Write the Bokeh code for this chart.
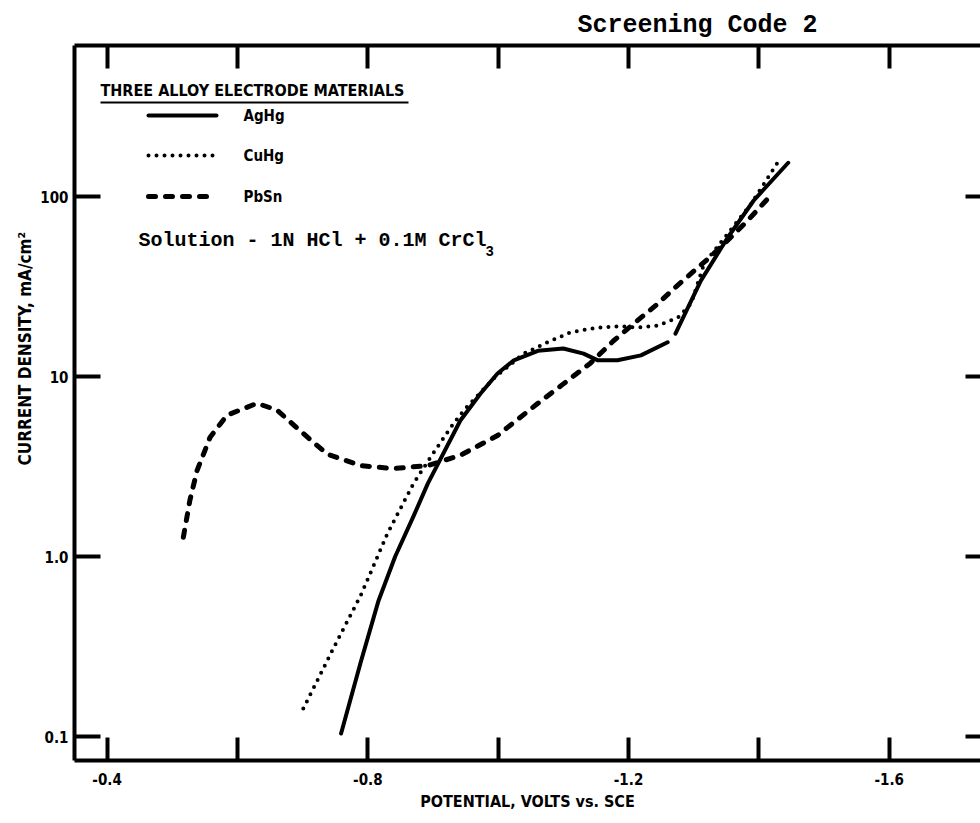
import math
from bokeh.plotting import figure
from bokeh.models import Range1d, FixedTicker, LinearAxis, LogAxis, Label, Title
from bokeh.embed import file_html
from bokeh.resources import INLINE

# ---------------- data ----------------
pbsn_v = [-0.517, -0.527, -0.538, -0.558, -0.584, -0.630, -0.661, -0.696, -0.738,
          -0.789, -0.839, -0.892, -0.942, -0.999, -1.014, -1.061, -1.100, -1.142,
          -1.177, -1.214, -1.245, -1.270, -1.322, -1.352, -1.383, -1.421]
pbsn_i = [1.28, 2.05, 3.0, 4.6, 6.1, 7.1, 6.5, 5.0, 3.7,
          3.2, 3.08, 3.2, 3.65, 4.7, 5.2, 7.1, 9.1, 11.9,
          15.8, 20.5, 25.4, 30.9, 45.1, 57.0, 73.6, 104.0]

aghg_v1 = [-0.759, -0.789, -0.816, -0.842, -0.870, -0.892, -0.942, -0.973, -0.999,
           -1.024, -1.061, -1.100, -1.131, -1.153, -1.183, -1.219, -1.260]
aghg_i1 = [0.104, 0.258, 0.562, 1.0, 1.67, 2.54, 5.7, 8.05, 10.4,
           12.3, 13.9, 14.3, 13.4, 12.3, 12.3, 13.1, 15.5]
aghg_v2 = [-1.272, -1.311, -1.352, -1.392, -1.445]
aghg_i2 = [17.3, 34.1, 59.0, 95.0, 154.0]

cuhg_v = [-0.701, -0.747, -0.789, -0.807, -0.830, -0.870, -0.896, -0.927, -0.947,
          -0.993, -1.039, -1.076, -1.111, -1.153, -1.188, -1.214, -1.245, -1.276,
          -1.296, -1.316, -1.352, -1.388, -1.434]
cuhg_i = [0.143, 0.308, 0.607, 0.858, 1.34, 2.54, 3.55, 5.2, 6.47,
          9.75, 13.4, 15.5, 17.6, 18.7, 19.0, 18.7, 19.2, 21.3,
          25.4, 42.4, 62.0, 91.0, 165.0]

series_names = ["AgHg", "CuHg", "PbSn"]
x_label_ticks = [-0.4, -0.8, -1.2, -1.6]
x_mid_ticks = [-0.6, -1.0, -1.4]
x_tick_labels = ["-0.4", "-0.8", "-1.2", "-1.6"]
y_ticks = [0.1, 1.0, 10.0, 100.0]
y_tick_labels = ["0.1", "1.0", "10", "100"]

title_text = "Screening Code 2"
legend_title = "THREE ALLOY ELECTRODE MATERIALS"
solution_text = "Solution - 1N HCl + 0.1M CrCl"
x_label = "POTENTIAL, VOLTS vs. SCE"
y_label = "CURRENT DENSITY, mA/cm\u00b2"

# ---------------- layout ----------------
W, H = 980, 823
FL, FR, FT, FB = 74, 980, 45, 760
XS, XE = -0.35, -1.74
YS, YE = 0.0736, 690.0
SANS = "DejaVu Sans Condensed"
MONO = "Liberation Mono"


def sx(px):
    return XS + (px - FL) / (FR - FL) * (XE - XS)


def sy(py):
    l0, l1 = math.log10(YS), math.log10(YE)
    return 10 ** (l1 - (py - FT) / (FB - FT) * (l1 - l0))


p = figure(width=W, height=H, x_range=Range1d(XS, XE), y_range=Range1d(YS, YE),
           y_axis_type="log", output_backend="svg", toolbar_location=None,
           min_border_left=FL, min_border_right=W - FR, min_border_top=FT,
           min_border_bottom=H - FB)
p.outline_line_color = None
p.xgrid.visible = False
p.ygrid.visible = False
p.background_fill_color = "white"
p.border_fill_color = "white"

# title
p.title.text = title_text
p.title.align = "left"
p.title.offset = 503
p.title.text_font = MONO
p.title.text_font_style = "bold"
p.title.text_font_size = "25px"
p.title.text_color = "black"
p.title.standoff = 12


def style_axis(ax, tick_in):
    ax.axis_line_width = 4
    ax.axis_line_color = "black"
    ax.major_tick_in = tick_in
    ax.major_tick_out = 0
    ax.major_tick_line_width = 4
    ax.major_tick_line_color = "black"
    ax.minor_tick_in = tick_in
    ax.minor_tick_out = 0
    ax.minor_tick_line_width = 4
    ax.minor_tick_line_color = "black"
    ax.major_label_text_font = SANS
    ax.major_label_text_font_style = "bold"
    ax.major_label_text_font_size = "15px"
    ax.major_label_text_color = "black"


# bottom axis
xa = p.xaxis[0]
xa.ticker = FixedTicker(ticks=x_label_ticks, minor_ticks=x_mid_ticks)
xa.major_label_overrides = {t: l for t, l in zip(x_label_ticks, x_tick_labels)}
style_axis(xa, 23)
xa.major_label_standoff = 12
xa.axis_label = x_label
xa.axis_label_text_font = SANS
xa.axis_label_text_font_style = "bold"
xa.axis_label_text_font_size = "16px"
xa.axis_label_text_color = "black"
xa.axis_label_standoff = 4

# left axis
ya = p.yaxis[0]
ya.ticker = FixedTicker(ticks=y_ticks, minor_ticks=[])
ya.major_label_overrides = {t: l for t, l in zip(y_ticks, y_tick_labels)}
style_axis(ya, 26)
ya.major_label_standoff = 6

# y axis label, starting above the frame bottom as in the reference
p.add_layout(Title(text=y_label, align="left", offset=295, text_font=SANS,
                   text_font_style="bold", text_font_size="17px",
                   text_color="black", standoff=6), "left")

# top axis: tick marks only
ta = LinearAxis(ticker=FixedTicker(ticks=[], minor_ticks=x_label_ticks + x_mid_ticks))
style_axis(ta, 23)
p.add_layout(ta, "above")

# right axis (cut off by the page edge: only tick stubs)
ra = LogAxis(ticker=FixedTicker(ticks=[], minor_ticks=y_ticks))
style_axis(ra, 15)
ra.axis_line_color = None
p.add_layout(ra, "right")

# ---------------- curves ----------------
p.line(pbsn_v, pbsn_i, line_width=5, line_color="black", line_dash="7 10",
       line_cap="round", line_join="round")
p.line(cuhg_v, cuhg_i, line_width=4, line_color="black", line_dash="0 8",
       line_cap="round", line_join="round")
p.line(aghg_v1, aghg_i1, line_width=4, line_color="black", line_join="round",
       line_cap="round")
p.line(aghg_v2, aghg_i2, line_width=4, line_color="black", line_join="round",
       line_cap="round")

# ---------------- legend (drawn) ----------------
p.add_layout(Label(x=sx(100), y=sy(90), text=legend_title, text_font=SANS,
                   text_font_style="bold", text_font_size="16px", text_color="black",
                   text_align="left", text_baseline="middle"))
p.line([sx(100), sx(408)], [sy(102), sy(102)], line_width=2, line_color="black")

leg_rows = [115, 155, 196]
leg_styles = [dict(line_width=4), dict(line_width=4, line_dash="0 8"),
              dict(line_width=5, line_dash="7 10")]
for name, row, st in zip(series_names, leg_rows, leg_styles):
    p.line([sx(148), sx(216)], [sy(row), sy(row)], line_color="black",
           line_cap="round", **st)
    p.add_layout(Label(x=sx(243), y=sy(row), text=name, text_font=SANS,
                       text_font_style="bold", text_font_size="15px",
                       text_color="black", text_align="left",
                       text_baseline="middle"))

p.add_layout(Label(x=sx(138), y=sy(240), text=solution_text, text_font=MONO,
                   text_font_style="bold", text_font_size="20px", text_color="black",
                   text_align="left", text_baseline="middle"))
p.add_layout(Label(x=sx(485), y=sy(250), text="3", text_font=MONO,
                   text_font_style="bold", text_font_size="14px", text_color="black",
                   text_align="left", text_baseline="middle"))

open("out.html", "w").write(file_html(p, INLINE))
